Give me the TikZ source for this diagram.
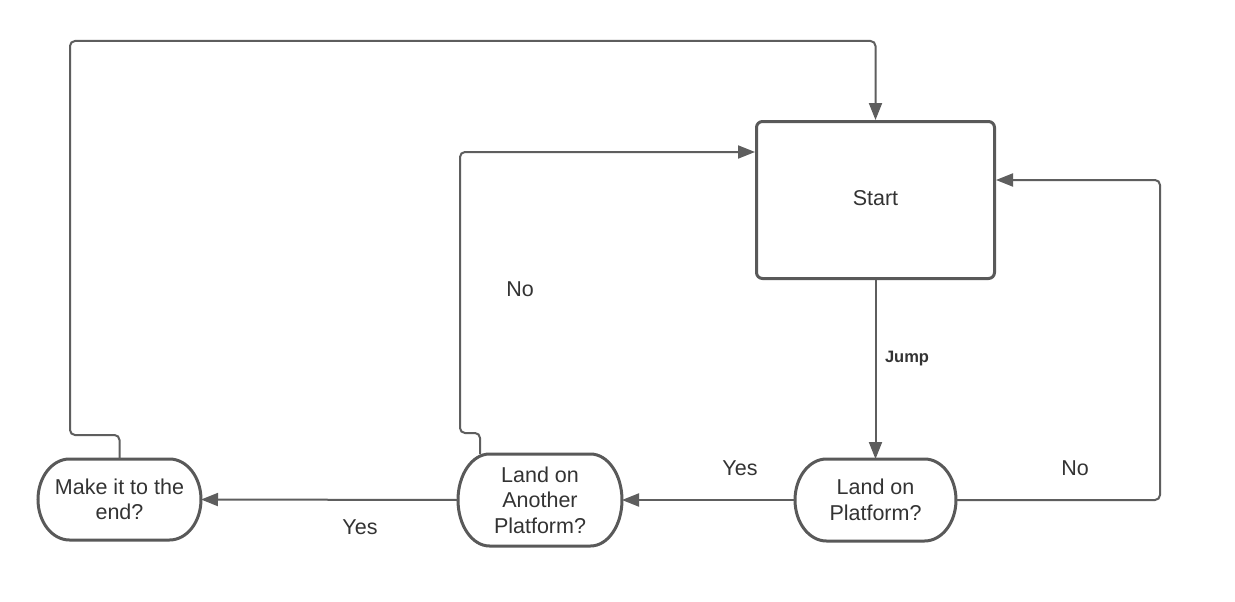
\documentclass[tikz,border=0pt]{standalone}
\usepackage{fontspec}
\setmainfont{Liberation Sans}
\usetikzlibrary{arrows.meta,calc}
\definecolor{ln}{HTML}{5E5E5E}
\definecolor{bd}{HTML}{595959}
\definecolor{tx}{HTML}{333333}
\newcommand\nodefont{\fontsize{21.5}{25.5}\selectfont}
\newcommand\jumpfont{\fontsize{16.5}{19}\selectfont\bfseries}
% #1 node name, #2 horizontal radius, #3 control offset x, #4 control offset y
\newcommand\termshape[4]{%
  \draw[bd, line width=3pt]
    ([xshift=#2pt]#1.north west) -- ([xshift=-#2pt]#1.north east)
    .. controls ([xshift=-#3pt]#1.north east) and ([yshift=-#4pt]#1.north east) .. (#1.east)
    .. controls ([yshift=#4pt]#1.south east) and ([xshift=-#3pt]#1.south east) .. ([xshift=-#2pt]#1.south east)
    -- ([xshift=#2pt]#1.south west)
    .. controls ([xshift=#3pt]#1.south west) and ([yshift=#4pt]#1.south west) .. (#1.west)
    .. controls ([yshift=-#4pt]#1.north west) and ([xshift=#3pt]#1.north west) .. ([xshift=#2pt]#1.north west)
    -- cycle;}
\begin{document}
\begin{tikzpicture}[x=1pt,y=-1pt,
  conn/.style={draw=ln, line width=2pt, rounded corners=5pt, -{Triangle[length=17pt,width=13pt]}},
  term/.style 2 args={minimum width=#1pt, minimum height=#2pt, inner sep=0pt, outer sep=0pt, align=center, text=tx, font=\nodefont},
  lbl/.style={text=tx, font=\nodefont, inner sep=0pt}]
\useasboundingbox[fill=white] (0,0) rectangle (1235,602);

\node[draw=bd, line width=3pt, rounded corners=6pt, minimum width=238pt, minimum height=157pt, text=tx, font=\nodefont] (start) at (875.5,200) {\raisebox{4pt}{Start}};
\node[term={161}{82}] (land) at (875.5,500) {Land on\\Platform?};
\node[term={164}{92}] (another) at (540,500) {Land on\\Another\\Platform?};
\node[term={163}{81}] (make) at (119.5,499.5) {Make it to the\\end?};
\begin{scope}
\clip (0,0) rectangle (1235,602);
\end{scope}
\termshape{land}{31.5}{14.1}{18.4}
\termshape{another}{31.5}{14.1}{20.6}
\termshape{make}{31.5}{14.1}{18.1}

\coordinate (r1) at (1160,180);
\coordinate (l1) at (460,152);
\coordinate (t1) at (70,41);

\draw[conn] (start) -- (land);
\draw[conn] (land.east) -| (r1) -- (r1 -| start.east);
\draw[conn] (land.west) -- (another.east);
\draw[conn] (another.west) -- (make.east);
\draw[conn] ([xshift=22pt]another.north west) |- (460,433) -- (l1) -- (l1 -| start.west);
\draw[conn] (make.north) |- (70,435) -- (t1) -- (t1 -| start.north) -- (start.north);

\node[text=tx, font=\jumpfont, inner sep=0pt] (jump) at (907,359) {Jump};
\node[lbl] (no1) at (520,289) {No};
\node[lbl] (no2) at (1075,468) {No};
\node[lbl] (yes1) at (740,468) {Yes};
\node[lbl] (yes2) at (360,527) {Yes};
\end{tikzpicture}
\end{document}
